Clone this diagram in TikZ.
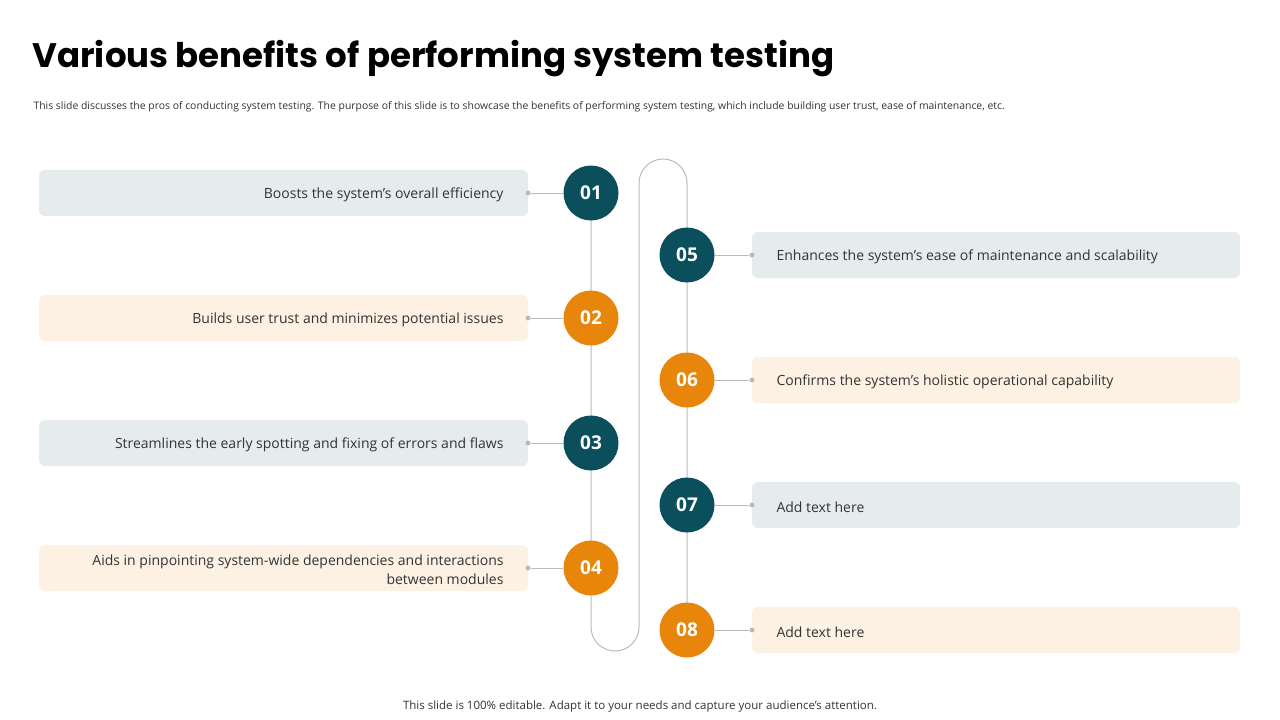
\documentclass[tikz,border=0pt]{standalone}
\usepackage{fontspec}
\setmainfont{Open Sans}
\newfontfamily\titlefont{Poppins}
\definecolor{teal}{HTML}{0B4F5C}
\definecolor{orng}{HTML}{E8860C}
\definecolor{boxg}{HTML}{E6ECEE}
\definecolor{boxo}{HTML}{FDF1E4}
\definecolor{lne}{HTML}{BBBBBB}
\begin{document}
\begin{tikzpicture}[x=1pt,y=-1pt,
  circ/.style={circle,minimum size=55pt,inner sep=0pt,text=white,font=\fontsize{19}{19}\selectfont\bfseries},
  lbox/.style={rounded corners=6pt,minimum width=489pt,minimum height=46pt,inner sep=0pt},
  ltxt/.style={font=\fontsize{14}{19}\selectfont,text=black!80,align=right,anchor=east},
  rtxt/.style={font=\fontsize{14}{19}\selectfont,text=black!80,align=left,anchor=west},
  conn/.style={draw=lne,line width=1pt},
  dot/.style={circle,fill=lne,inner sep=0pt,minimum size=5pt}]
\useasboundingbox (0,0) rectangle (1280,720);
\node[anchor=west,font=\titlefont\fontsize{34}{34}\selectfont\bfseries] (title) at (29,59) {Various benefits of performing system testing};
\node[anchor=west,font=\fontsize{10.4}{12}\selectfont,text=black!80] (sub) at (30,107) {This slide discusses the pros of conducting system testing. The purpose of this slide is to showcase the benefits of performing system testing, which include building user trust, ease of maintenance, etc.};
\node[font=\fontsize{11.5}{13}\selectfont,text=black!80] (foot) at (640,707) {This slide is 100\% editable. Adapt it to your needs and capture your audience’s attention.};
% path
\draw[conn] (591,193) -- (591,627) arc[start angle=180,end angle=0,radius=24] -- (639,183) arc[start angle=180,end angle=360,radius=24] -- (687,630);
% left items
\foreach \y/\n/\c/\b/\t in {193/01/teal/boxg/{Boosts the system's overall efficiency},318/02/orng/boxo/{Builds user trust and minimizes potential issues},443/03/teal/boxg/{Streamlines the early spotting and fixing of errors and flaws},568/04/orng/boxo/{Aids in pinpointing system-wide dependencies and interactions\\between modules}}{
  \node[lbox,fill=\b] (lb\n) at (283.5,\y) {};
  \node[ltxt] (lt\n) at (507,\y+2) {\t};
  \node[dot] (ld\n) at (528,\y) {};
  \node[circ,fill=\c] (c\n) at (591,\y) {\n};
  \draw[conn] (ld\n) -- (c\n);
}
\foreach \y/\n/\c/\b/\t in {255/05/teal/boxg/{Enhances the system's ease of maintenance and scalability},380/06/orng/boxo/{Confirms the system's holistic operational capability},505/07/teal/boxg/{Add text here},630/08/orng/boxo/{Add text here}}{
  \node[lbox,fill=\b,minimum width=488pt] (rb\n) at (996,\y) {};
  \node[rtxt] (rt\n) at (773,\y+2) {\t};
  \node[dot] (rd\n) at (752,\y) {};
  \node[circ,fill=\c] (c\n) at (687,\y) {\n};
  \draw[conn] (c\n) -- (rd\n);
}
\end{tikzpicture}
\end{document}
